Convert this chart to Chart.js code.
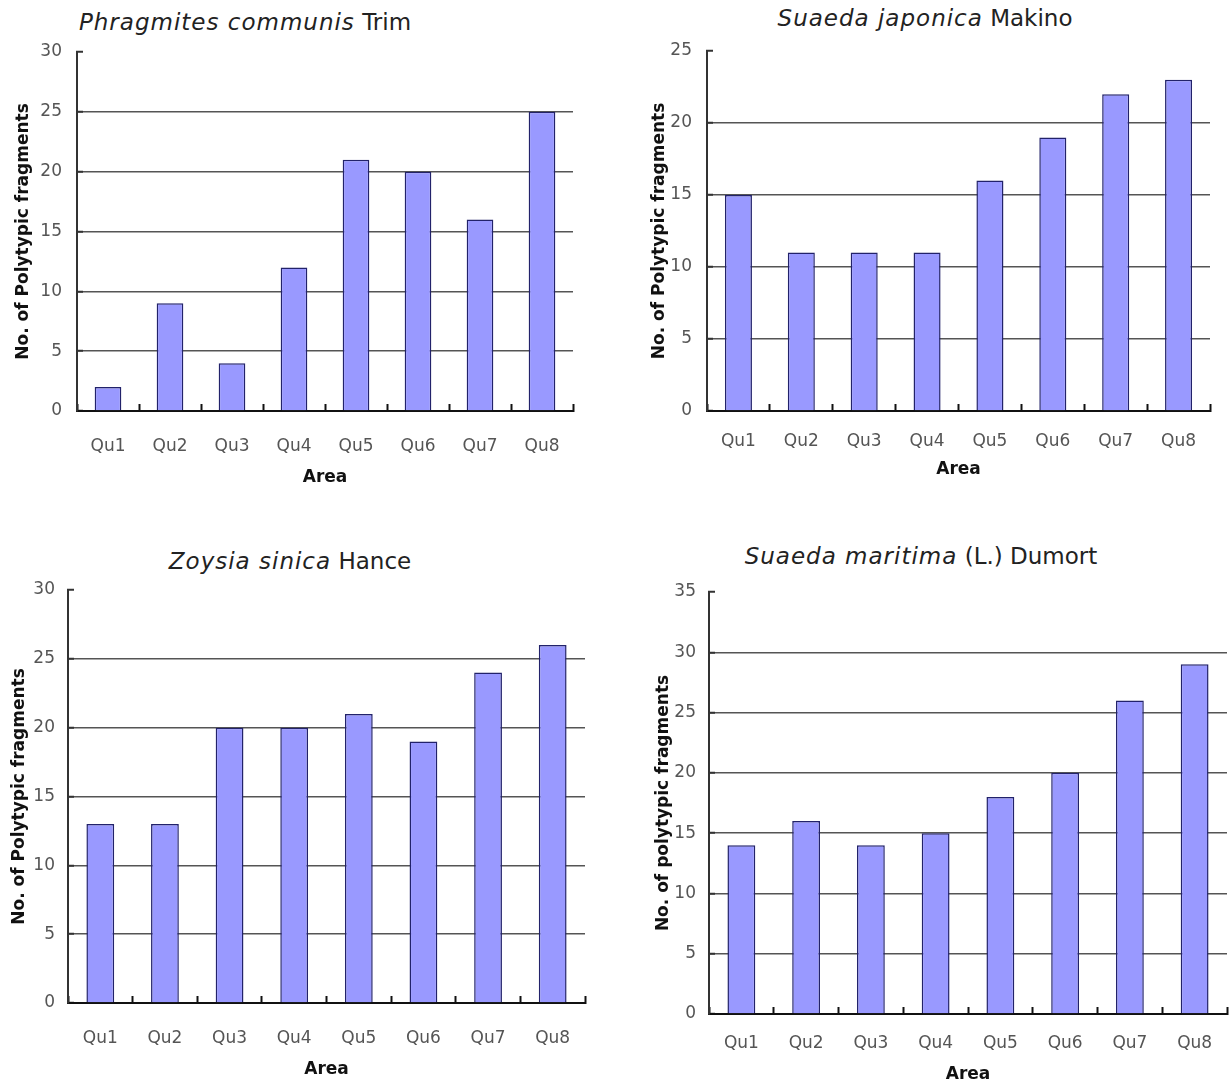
<!DOCTYPE html>
<html>
<head>
<meta charset="utf-8">
<script src="https://cdn.jsdelivr.net/npm/chart.js@4.4.1/dist/chart.umd.min.js"></script>
<style>
    body { margin: 0; background: #fff; }
    #page { position: relative; width: 1231px; height: 1086px; overflow: hidden; background: #fff; }
    .panel { position: absolute; }
    .title {
        position: absolute; width: 600px; height: 28px; line-height: 28px;
        text-align: center; white-space: nowrap;
        font-family: "DejaVu Sans", sans-serif; font-size: 23px; color: #222;
    }
    .title i { letter-spacing: 1px; }
</style>
</head>
<body>
<div id="page">
    <div class="title" style="left:-55px; top:8px;"><i>Phragmites communis</i> Trim</div>
    <div class="title" style="left:625px; top:4px;"><i>Suaeda japonica</i> Makino</div>
    <div class="title" style="left:-10px; top:547px;"><i>Zoysia sinica</i> Hance</div>
    <div class="title" style="left:621px; top:542px;"><i>Suaeda maritima</i> (L.) Dumort</div>

    <div class="panel" id="p1"><canvas id="c1"></canvas></div>
    <div class="panel" id="p2"><canvas id="c2"></canvas></div>
    <div class="panel" id="p3"><canvas id="c3"></canvas></div>
    <div class="panel" id="p4"><canvas id="c4"></canvas></div>
</div>
<script>
const areas = ["Qu1", "Qu2", "Qu3", "Qu4", "Qu5", "Qu6", "Qu7", "Qu8"]

const phragmites = [2, 9, 4, 12, 21, 20, 16, 25]
const suaedaJaponica = [15, 11, 11, 11, 16, 19, 22, 23]
const zoysia = [13, 13, 20, 20, 21, 19, 24, 26]
const suaedaMaritima = [14, 16, 14, 15, 18, 20, 26, 29]

const yMax = [30, 25, 30, 35]
const yTitles = [
    "No. of Polytypic fragments",
    "No. of Polytypic fragments",
    "No. of Polytypic fragments",
    "No. of polytypic fragments"
]

// box = canvas left/right/bottom, plot = where the axes sit (page coords)
const panels = [
    {id: "c1", div: "p1", data: phragmites, box: [13, 590, 488], plot: [77, 52, 573, 411], labelY: 447, tickPad: 15},
    {id: "c2", div: "p2", data: suaedaJaponica, box: [649, 1225, 480], plot: [707, 51, 1210, 411], labelY: 442, tickPad: 15},
    {id: "c3", div: "p3", data: zoysia, box: [9, 600, 1080], plot: [68, 590, 585, 1003], labelY: 1039, tickPad: 13},
    {id: "c4", div: "p4", data: suaedaMaritima, box: [653, 1231, 1085], plot: [709, 592, 1227, 1014], labelY: 1044, tickPad: 13}
]

const tickFont = {family: "'DejaVu Sans', sans-serif", size: 17}
const boldFont = {family: "'DejaVu Sans', sans-serif", size: 17, weight: "bold"}

function makeChart(p, i){
    const [bl, br, bb] = p.box
    const [al, at, ar, ab] = p.plot
    // top padding has to beat the tick label padding, so keep it generous
    const bt = at - 32
    const div = document.getElementById(p.div)
    div.style.left = bl + "px"
    div.style.top = bt + "px"
    div.style.width = (br - bl) + "px"
    div.style.height = (bb - bt) + "px"
    const max = yMax[i]
    const tickLen = -7
    const yTickLen = -6
    const config = {
        type: "bar",
        data: {
            labels: areas,
            datasets: [{
                data: p.data,
                backgroundColor: "#9999ff",
                borderColor: "#22226a",
                borderWidth: 1.5,
                categoryPercentage: 1,
                barPercentage: 0.43
            }]
        },
        options: {
            responsive: true,
            maintainAspectRatio: false,
            animation: false,
            layout: {padding: {left: 0, top: at - bt, right: br - ar, bottom: 0}},
            plugins: {legend: {display: false}, tooltip: {enabled: false}},
            scales: {
                x: {
                    grid: {display: true, offset: true, drawOnChartArea: false, drawTicks: true,
                        tickLength: tickLen, tickColor: "#111", tickWidth: 2},
                    border: {display: true, color: "#111", width: 2},
                    ticks: {font: tickFont, color: "#555", maxRotation: 0, autoSkip: false,
                        padding: p.labelY - ab - tickLen - tickFont.size * 0.6},
                    title: {display: true, text: "Area", font: boldFont, color: "#111", padding: 0},
                    afterFit: (scale) => {
                        scale.height = bb - ab
                        scale.paddingLeft = 0
                        scale.paddingRight = 0
                    }
                },
                y: {
                    min: 0, max: max,
                    ticks: {stepSize: 5, font: tickFont, color: "#555", padding: p.tickPad - yTickLen},
                    grid: {drawTicks: true, tickLength: yTickLen, tickColor: "#333", tickWidth: 2, lineWidth: 1.5,
                        color: (ctx) => (ctx.tick && (ctx.tick.value === 0 || ctx.tick.value === max)) ? "rgba(0,0,0,0)" : "#555"},
                    border: {display: true, color: "#333", width: 2},
                    title: {display: true, text: yTitles[i], font: boldFont, color: "#111", padding: 0},
                    afterFit: (scale) => { scale.width = al - bl }
                }
            }
        }
    }
    return new Chart(document.getElementById(p.id), config)
}

panels.forEach((p, i) => makeChart(p, i))
</script>
</body>
</html>
